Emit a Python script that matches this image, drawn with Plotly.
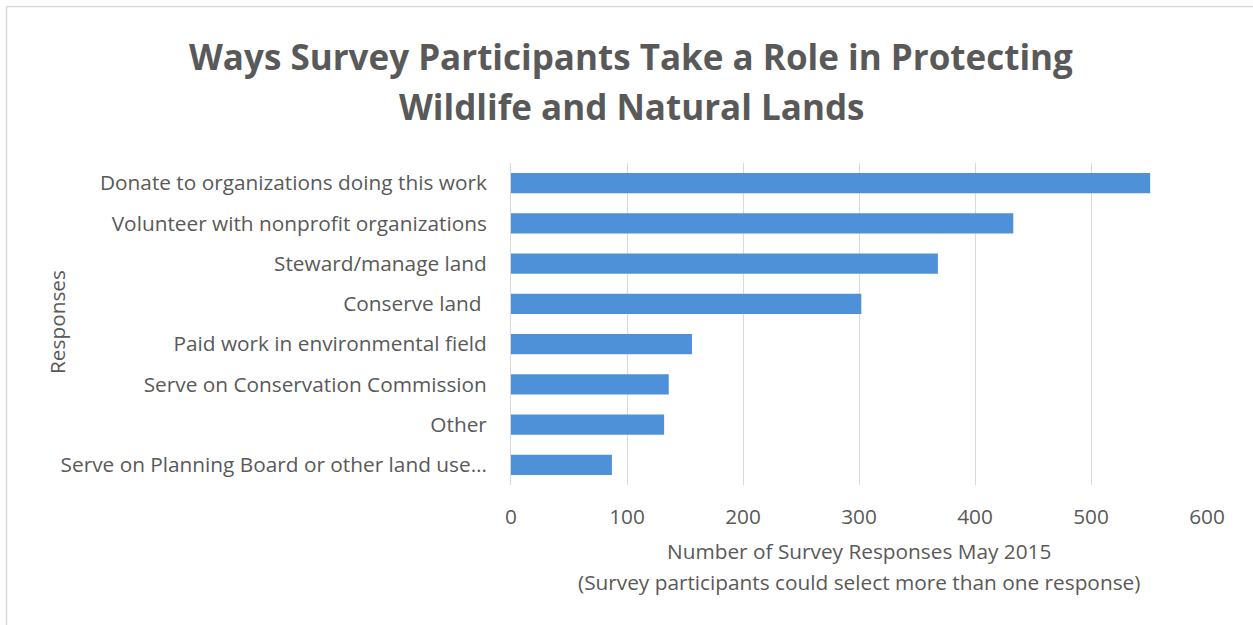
import plotly.graph_objects as go

categories = [
    "Donate to organizations doing this work",
    "Volunteer with nonprofit organizations",
    "Steward/manage land",
    "Conserve land ",
    "Paid work in environmental field",
    "Serve on Conservation Commission",
    "Other",
    "Serve on Planning Board or other land use…",
]
values = [551, 433, 368, 302, 156, 136, 132, 87]
x_ticks = [0, 100, 200, 300, 400, 500, 600]

W, H = 1253, 625
L, R, T, B = 511, 46, 163, 140  # plot area 511..1207, 163..485
pw = W - L - R
ph = H - T - B

def px(x):
    return (x - L) / pw

def py(y):
    return (H - B - y) / ph

FS = 20.8
GRAY = "#595959"

fig = go.Figure(go.Bar(
    x=values,
    y=categories,
    orientation="h",
    marker=dict(color="#4F91D8", line=dict(width=0)),
))

fig.update_layout(
    width=W, height=H,
    margin=dict(l=L, r=R, t=T, b=B, pad=0),
    paper_bgcolor="white",
    plot_bgcolor="white",
    bargap=0.5,
    showlegend=False,
    font=dict(family="Open Sans", color=GRAY),
    xaxis=dict(
        range=[0, 600],
        tickvals=x_ticks,
        ticktext=[str(v) for v in x_ticks],
        showgrid=True, gridcolor="#D9D9D9", gridwidth=1,
        zeroline=False, showline=False,
        ticks="", ticklabelstandoff=17,
        tickfont=dict(size=FS, color=GRAY),
        fixedrange=True,
    ),
    yaxis=dict(
        autorange="reversed",
        showgrid=False, zeroline=False,
        showline=True, linecolor="#D9D9D9", linewidth=1,
        ticks="", ticklabelstandoff=19,
        tickfont=dict(size=FS, color=GRAY),
        fixedrange=True,
    ),
    annotations=[
        dict(text="Ways Survey Participants Take a Role in Protecting",
             x=px(631), y=py(57), xref="paper", yref="paper",
             showarrow=False, xanchor="center", yanchor="middle",
             font=dict(family="Open Sans", size=35, color=GRAY, weight="bold")),
        dict(text="Wildlife and Natural Lands",
             x=px(631), y=py(107), xref="paper", yref="paper",
             showarrow=False, xanchor="center", yanchor="middle",
             font=dict(family="Open Sans", size=35, color=GRAY, weight="bold")),
        dict(text="Number of Survey Responses May 2015",
             x=px(859), y=py(551), xref="paper", yref="paper",
             showarrow=False, xanchor="center", yanchor="middle",
             font=dict(family="Open Sans", size=FS, color=GRAY)),
        dict(text="(Survey participants could select more than one response)",
             x=px(859), y=py(582), xref="paper", yref="paper",
             showarrow=False, xanchor="center", yanchor="middle",
             font=dict(family="Open Sans", size=FS, color=GRAY)),
        dict(text="Responses",
             x=px(57), y=py(322), xref="paper", yref="paper",
             showarrow=False, xanchor="center", yanchor="middle",
             textangle=-90,
             font=dict(family="Open Sans", size=FS, color=GRAY)),
    ],
    shapes=[
        dict(type="line", xref="paper", yref="paper",
             x0=px(6.5), x1=px(1300), y0=py(6.5), y1=py(6.5),
             line=dict(color="#D9D9D9", width=1.5)),
        dict(type="line", xref="paper", yref="paper",
             x0=px(6.5), x1=px(6.5), y0=py(6.5), y1=py(700),
             line=dict(color="#D9D9D9", width=1.5)),
    ],
)

fig.write_html(
    "out.html",
    config={"displayModeBar": False, "staticPlot": True},
    post_script="document.body.style.margin='0';document.body.style.overflow='hidden';",
)
